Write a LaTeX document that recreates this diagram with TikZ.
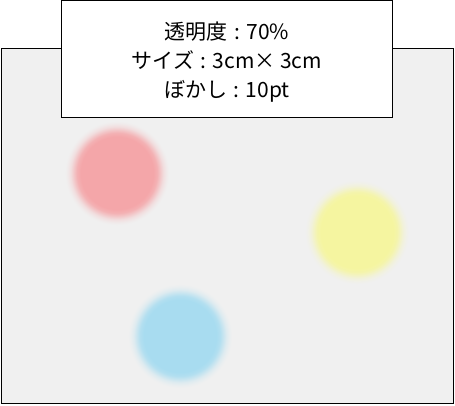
\documentclass[tikz,border=0pt]{standalone}
\usepackage{fontspec}
\setmainfont{Noto Sans CJK JP}
\usetikzlibrary{positioning}

\definecolor{bggray}{HTML}{F0F0F0}
\definecolor{dotred}{HTML}{F4A6A9}
\definecolor{dotyellow}{HTML}{F5F5A0}
\definecolor{dotblue}{HTML}{A8DCF0}

% weiche Kreise: Farbe innen, Rand verlaeuft in den Hintergrund
\newcommand{\blurshading}[2]{%
	\pgfdeclareradialshading{#1}{\pgfpoint{0bp}{0bp}}{%
		color(0bp)=(#2); color(17.5bp)=(#2);
		color(19.3bp)=(#2!85!bggray); color(20.8bp)=(#2!55!bggray);
		color(22.3bp)=(#2!25!bggray); color(23.8bp)=(#2!8!bggray);
		color(25bp)=(bggray); color(50bp)=(bggray)}}
\blurshading{blurred red}{dotred}
\blurshading{blurred yellow}{dotyellow}
\blurshading{blurred blue}{dotblue}

\newcommand{\kolon}{\hspace{0.3em}:\hspace{0.3em}}

\tikzset{
	blurdot/.style={circle, minimum size=104pt, inner sep=0pt, shading=#1},
	captionbox/.style={draw, fill=white, line width=1pt,
		minimum width=331pt, minimum height=116.5pt},
	captiontext/.style={align=center, font=\fontsize{21}{29}\selectfont}
}

\begin{document}
\begin{tikzpicture}[x=1pt, y=-1pt]
	\useasboundingbox (0,0) rectangle (455,405);

	% Hintergrund
	\draw[fill=bggray, line width=1pt] (1.5,48.5) rectangle (453.5,403.5);

	% Kreise
	\node[blurdot=blurred red] (reddot) at (117,173) {};
	\node[blurdot=blurred yellow] (yellowdot) at (357,232) {};
	\node[blurdot=blurred blue] (bluedot) at (180,336) {};

	% Beschriftung
	\node[captionbox] (infobox) at (227,59) {};
	\node[captiontext] (info) at (227,62.5) {透明度\kolon 70\%\\サイズ\kolon 3cm× 3cm\\ぼかし\kolon 10pt};
\end{tikzpicture}
\end{document}
